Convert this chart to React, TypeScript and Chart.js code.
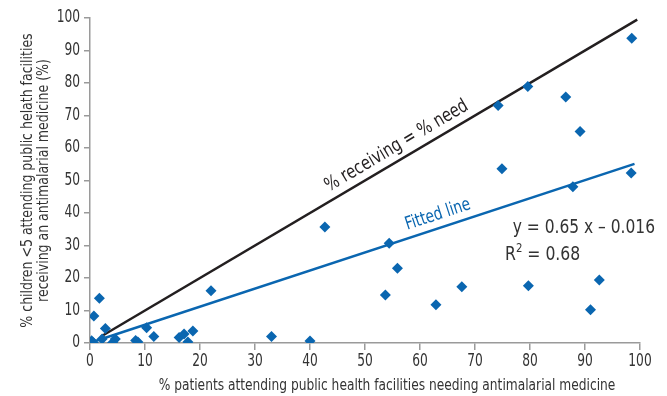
import { useEffect, useRef } from 'react';
import { Chart, registerables } from 'chart.js';

Chart.register(...registerables);

// % patients needing antimalarial medicine (x) and % children <5 receiving one (y)
const needPct = [0.3, 0.6, 0.7, 1.7, 2.2, 2.8, 4.1, 4.6, 8.3, 8.7, 10.3, 11.6, 16.2, 17.1, 17.8, 18.7, 22.0, 33.0, 40.0, 42.7, 53.7, 54.4, 55.9, 62.9, 67.6, 74.2, 74.9, 79.6, 79.7, 86.5, 87.8, 89.1, 91.0, 92.6, 98.4, 98.5];
const receivePct = [0.7, 0.1, 8.3, 13.8, 1.2, 4.5, 0.1, 1.2, 0.8, 0.3, 4.7, 2.0, 1.7, 2.8, 0.3, 3.7, 16.1, 2.0, 0.6, 35.7, 14.8, 30.7, 23.0, 11.8, 17.3, 73.1, 53.6, 78.9, 17.6, 75.7, 48.1, 65.1, 10.2, 19.4, 52.3, 93.8];

// reference line: % receiving = % need
const identityX = [2, 99.5];
const identityY = [2, 99.5];
// fitted line as drawn
const fitX = [1, 99];
const fitY = [0.6, 55.1];

const xTicks = [0, 10, 20, 30, 40, 50, 60, 70, 80, 90, 100];
const yTicks = [0, 10, 20, 30, 40, 50, 60, 70, 80, 90, 100];

const xTitle = '% patients attending public health facilities needing antimalarial medicine';
const yTitle = ['% children <5 attending public helath facilities', 'receiving an antimalarial medicine (%)'];
const identityLabel = '% receiving = % need';
const fitLabel = 'Fitted line';
const equationLabel = 'y = 0.65 x – 0.016';
const r2Label = ['R', '2', ' = 0.68'];

const FONT = "'DejaVu Sans Condensed', 'Liberation Sans', sans-serif";
const BLUE = '#0a66b0';
const BLACK = '#231f20';
const TEXT = '#333333';
const AXIS = '#9a9a9a';

export default function App() {
  const ref = useRef<HTMLCanvasElement | null>(null);

  useEffect(() => {
    if (!ref.current) return;

    // draws narrow text: horizontally compressed by hs
    const txt = (ctx: any, s: string, x: number, y: number, size: number, align: string, hs: number, rot = 0, color = TEXT, baseline = 'middle') => {
      ctx.save();
      ctx.translate(x, y);
      ctx.rotate(rot);
      ctx.scale(hs, 1);
      ctx.font = `${size}px ${FONT}`;
      ctx.fillStyle = color;
      ctx.textAlign = align;
      ctx.textBaseline = baseline;
      ctx.fillText(s, 0, 0);
      ctx.restore();
    };

    const annot = {
      id: 'annot',
      afterDraw(chart: any) {
        const ctx = chart.ctx;
        const xs = chart.scales.x;
        const ys = chart.scales.y;
        const area = chart.chartArea;

        // tick labels
        xTicks.forEach((v) => txt(ctx, String(v), xs.getPixelForValue(v), area.bottom + 19, 17, 'center', 0.8));
        yTicks.forEach((v) => txt(ctx, String(v), area.left - 10, ys.getPixelForValue(v), 17, 'right', 0.8));

        // axis titles
        txt(ctx, xTitle, (area.left + area.right) / 2 + 22, 386, 16, 'center', 0.85);
        const cy = (area.top + area.bottom) / 2;
        txt(ctx, yTitle[0], 28, cy, 16, 'center', 0.87, -Math.PI / 2);
        txt(ctx, yTitle[1], 43.5, cy, 16, 'center', 0.87, -Math.PI / 2);

        // labels along lines
        const drawAlong = (lx: number[], ly: number[], at: number, text: string, color: string, size: number, hs: number, off: number) => {
          const x1 = xs.getPixelForValue(lx[0]);
          const y1 = ys.getPixelForValue(ly[0]);
          const x2 = xs.getPixelForValue(lx[1]);
          const y2 = ys.getPixelForValue(ly[1]);
          const ang = Math.atan2(y2 - y1, x2 - x1);
          const t = (at - lx[0]) / (lx[1] - lx[0]);
          const px = x1 + (x2 - x1) * t + Math.sin(ang) * off;
          const py = y1 + (y2 - y1) * t - Math.cos(ang) * off;
          txt(ctx, text, px, py, size, 'center', hs, ang, color, 'bottom');
        };
        drawAlong(identityX, identityY, 57, identityLabel, BLACK, 19, 0.86, 4);
        drawAlong(fitX, fitY, 64, fitLabel, BLUE, 18, 0.85, 4);

        // equation
        txt(ctx, equationLabel, area.right + 15, 228, 20, 'right', 0.86);
        ctx.save();
        let x = 505;
        ctx.font = `20px ${FONT}`;
        txt(ctx, r2Label[0], x, 255, 20, 'left', 0.87);
        x += ctx.measureText(r2Label[0]).width * 0.87;
        ctx.font = `13px ${FONT}`;
        txt(ctx, r2Label[1], x, 249, 13, 'left', 0.87);
        x += ctx.measureText(r2Label[1]).width * 0.87;
        txt(ctx, r2Label[2], x, 255, 20, 'left', 0.87);
        ctx.restore();
      },
    };

    const chart = new Chart(ref.current, {
      type: 'scatter',
      data: {
        datasets: [
          {
            label: 'Countries',
            data: needPct.map((v, i) => ({ x: v, y: receivePct[i] })),
            pointStyle: 'rectRot',
            pointRadius: 5.5,
            backgroundColor: BLUE,
            borderColor: BLUE,
            borderWidth: 0,
          },
          {
            label: identityLabel,
            data: identityX.map((v, i) => ({ x: v, y: identityY[i] })),
            showLine: true,
            pointRadius: 0,
            borderColor: BLACK,
            borderWidth: 2.5,
          },
          {
            label: fitLabel,
            data: fitX.map((v, i) => ({ x: v, y: fitY[i] })),
            showLine: true,
            pointRadius: 0,
            borderColor: BLUE,
            borderWidth: 2.5,
          },
        ],
      },
      options: {
        animation: false,
        responsive: true,
        maintainAspectRatio: false,
        layout: { padding: { top: 18, right: 27, left: 0, bottom: 0 } },
        plugins: { legend: { display: false }, tooltip: { enabled: false } },
        scales: {
          x: {
            type: 'linear',
            min: 0,
            max: 100,
            afterFit: (s: any) => { s.height = 53; },
            afterBuildTicks: (s: any) => { s.ticks = xTicks.map((v) => ({ value: v })); },
            ticks: { display: false },
            grid: { drawOnChartArea: false, drawTicks: true, tickLength: 7, color: AXIS, lineWidth: 1.5 },
            border: { color: AXIS, width: 1.5 },
          },
          y: {
            type: 'linear',
            min: 0,
            max: 100,
            afterFit: (s: any) => { s.width = 90; },
            afterBuildTicks: (s: any) => { s.ticks = yTicks.map((v) => ({ value: v })); },
            ticks: { display: false },
            grid: { drawOnChartArea: false, drawTicks: true, tickLength: 6, color: AXIS, lineWidth: 1.5 },
            border: { color: AXIS, width: 1.5 },
          },
        },
      },
      plugins: [annot],
    });
    return () => chart.destroy();
  }, []);

  return (
    <div style={{ position: 'fixed', left: 0, top: 0, width: 667, height: 396, background: '#fff' }}>
      <canvas ref={ref} />
    </div>
  );
}
